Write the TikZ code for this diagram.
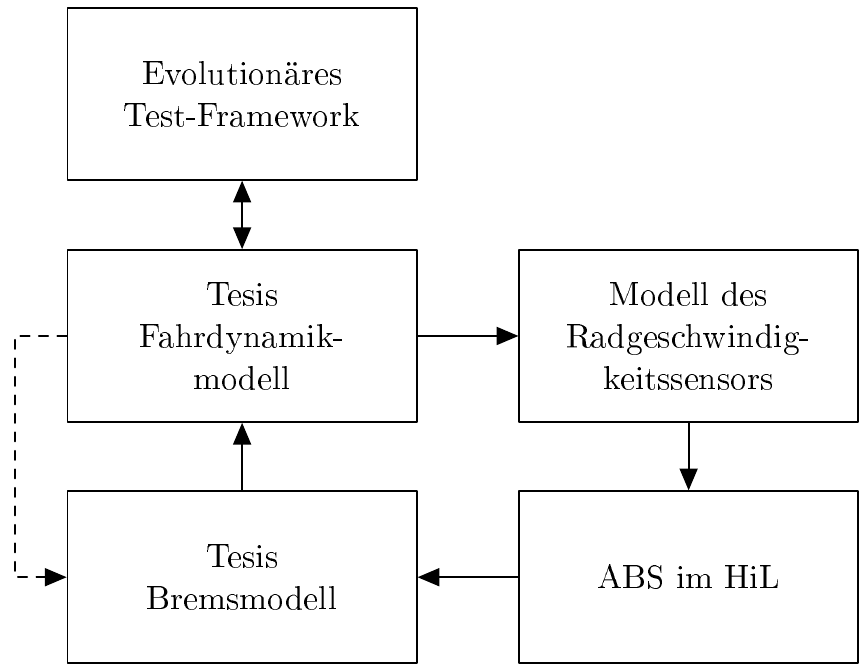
\documentclass[tikz,border=0pt]{standalone}
\usepackage[T1]{fontenc}
\usetikzlibrary{arrows}
\usetikzlibrary{positioning}

\begin{document}
\begin{tikzpicture}[line cap=round,line join=round,>=triangle 45,semithick,
  block/.style={draw,minimum height=1.96cm,align=center,font=\fontsize{11}{13.6}\selectfont}]
\useasboundingbox (0,0) rectangle (9.815,7.59);
\node[block,minimum width=3.98cm] (framework) at (2.76,6.52) {Evolution\"ares\\Test-Framework};
\node[block,minimum width=3.98cm] (fahrdyn) at (2.76,3.76) {Tesis\\Fahrdynamik-\\modell};
\node[block,minimum width=3.98cm] (brems) at (2.76,1.01) {Tesis\\Bremsmodell};
\node[block,minimum width=3.86cm] (sensor) at (7.85,3.76) {Modell des\\Radgeschwindig-\\keitssensors};
\node[block,minimum width=3.86cm] (abs) at (7.85,1.01) {ABS im HiL};
\coordinate (links) at (0.17,3.76);
\draw[<->] (framework) -- (fahrdyn);
\draw[->] (fahrdyn) -- (sensor);
\draw[->] (sensor) -- (abs);
\draw[->] (abs) -- (brems);
\draw[->] (brems) -- (fahrdyn);
\draw[->,dashed] (fahrdyn.west) -- (links) |- (brems.west);
\end{tikzpicture}
\end{document}
